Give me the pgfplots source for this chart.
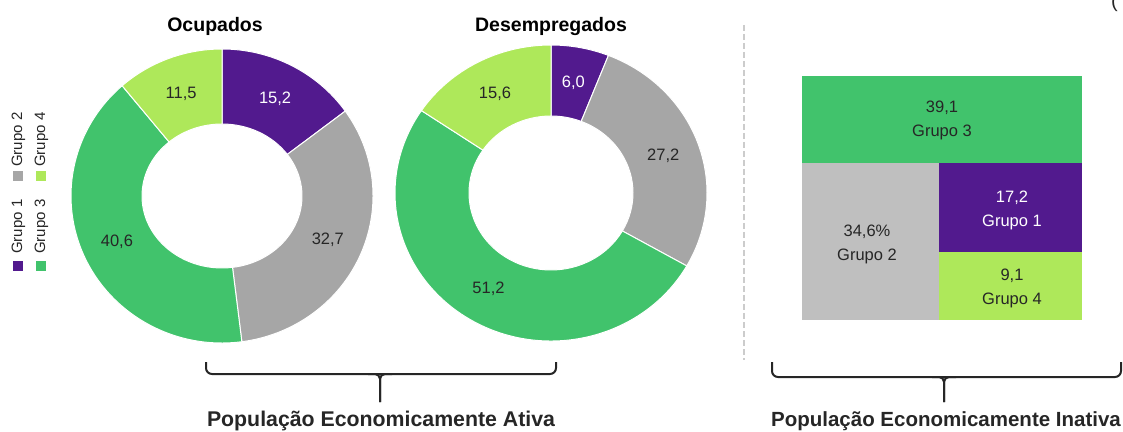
\documentclass[border=0pt]{standalone}
\usepackage{fontspec}
\setmainfont{Liberation Sans}
\usepackage{pgfplots}
\pgfplotsset{compat=1.18}

\definecolor{g1}{HTML}{521A8E}
\definecolor{g2}{HTML}{A6A6A6}
\definecolor{g2tm}{HTML}{BFBFBF}
\definecolor{g3}{HTML}{41C36C}
\definecolor{g4}{HTML}{AEE85A}
\definecolor{txt}{HTML}{262626}

\newcommand\donutfont{\fontsize{16.5}{19}\selectfont}
\newcommand\tmfont{\fontsize{16.5}{24}\selectfont}
\newcommand\titfont{\fontsize{19.5}{22}\selectfont\bfseries}
\newcommand\legfont{\fontsize{15}{16}\selectfont}

% donut: #1 cx, #2 cy, #3/#4 outer radii, #5/#6 inner radii, #7 value/label/colour/textcolour
\newcommand\donut[7]{%
  \gdef\cum{0}%
  \foreach \v/\lab/\c/\tc in {#7} {%
    \pgfmathsetmacro\aa{90-3.6*\cum}%
    \pgfmathsetmacro\ab{90-3.6*(\cum+\v)}%
    \pgfmathsetmacro\am{(\aa+\ab)/2}%
    \pgfmathsetmacro\ox{#1+#3*cos(\aa)}%
    \pgfmathsetmacro\oy{#2+#4*sin(\aa)}%
    \pgfmathsetmacro\ix{#1+#5*cos(\ab)}%
    \pgfmathsetmacro\iy{#2+#6*sin(\ab)}%
    \pgfmathsetmacro\lx{#1+(#3+#5)/2*cos(\am)}%
    \pgfmathsetmacro\ly{#2+(#4+#6)/2*sin(\am)}%
    \edef\tmp{%
      \noexpand\fill[\c, draw=white, line width=1pt] (axis cs:\ox,\oy)
        arc[start angle=\aa, end angle=\ab, x radius=#3pt, y radius=#4pt]
        -- (axis cs:\ix,\iy)
        arc[start angle=\ab, end angle=\aa, x radius=#5pt, y radius=#6pt] -- cycle;
      \noexpand\node[text=\tc, font=\noexpand\donutfont] at (axis cs:\lx,\ly) {\lab};}%
    \tmp
    \pgfmathsetmacro\newcum{\cum+\v}\global\let\cum\newcum
  }%
}

\begin{document}
\begin{tikzpicture}
\begin{axis}[
    hide axis,
    x=1pt, y=1pt,
    xmin=0, xmax=1123, ymin=0, ymax=431,
    clip=false,
]
\coordinate (BL) at (axis cs:0,0);
\coordinate (TR) at (axis cs:1123,431);

% donuts
\donut{222}{235}{151}{147}{80}{72}{15.2/{15,2}/g1/white, 32.7/{32,7}/g2/txt, 40.6/{40,6}/g3/txt, 11.5/{11,5}/g4/txt}
\donut{551}{238}{156}{148}{82}{77}{6.0/{6,0}/g1/white, 27.2/{27,2}/g2/txt, 51.2/{51,2}/g3/txt, 15.6/{15,6}/g4/txt}

\node[font=\titfont, text=black] at (axis cs:215,405) {Ocupados};
\node[font=\titfont, text=black] at (axis cs:551,404) {Desempregados};

% legend (rotated)
\fill[g1] (axis cs:13,160) rectangle (axis cs:23,170);
\fill[g2] (axis cs:13,250) rectangle (axis cs:23,260);
\fill[g3] (axis cs:36,160) rectangle (axis cs:46,170);
\fill[g4] (axis cs:36,250) rectangle (axis cs:46,260);
\node[rotate=90, anchor=west, font=\legfont, text=txt, inner sep=0pt] at (axis cs:18.5,177) {Grupo 1};
\node[rotate=90, anchor=west, font=\legfont, text=txt, inner sep=0pt] at (axis cs:18.5,264) {Grupo 2};
\node[rotate=90, anchor=west, font=\legfont, text=txt, inner sep=0pt] at (axis cs:41.5,177) {Grupo 3};
\node[rotate=90, anchor=west, font=\legfont, text=txt, inner sep=0pt] at (axis cs:41.5,264) {Grupo 4};

% separator
\draw[black!20, line width=1.5pt, dash pattern=on 6pt off 3pt] (axis cs:744,406) -- (axis cs:744,71);

% treemap
\addplot[fill=g3, draw=none] coordinates {(802,355) (1082,355) (1082,268) (802,268)} -- cycle;
\addplot[fill=g2tm, draw=none] coordinates {(802,268) (939,268) (939,111) (802,111)} -- cycle;
\addplot[fill=g1, draw=none] coordinates {(939,268) (1082,268) (1082,179) (939,179)} -- cycle;
\addplot[fill=g4, draw=none] coordinates {(939,179) (1082,179) (1082,111) (939,111)} -- cycle;
\node[align=center, font=\tmfont, text=txt] at (axis cs:942,311) {39,1\\Grupo 3};
\node[align=center, font=\tmfont, text=txt] at (axis cs:867,187) {34,6\%\\Grupo 2};
\node[align=center, font=\tmfont, text=white] at (axis cs:1012,221) {17,2\\Grupo 1};
\node[align=center, font=\tmfont, text=txt] at (axis cs:1012,143) {9,1\\Grupo 4};

% braces
\draw[txt, line width=2pt, rounded corners=6pt] (axis cs:206,69) -- (axis cs:206,57) -- (axis cs:556,57) -- (axis cs:556,69);
\draw[txt, line width=2pt, rounded corners=5pt] (axis cs:368,57) -| (axis cs:380,29);
\draw[txt, line width=2pt, rounded corners=5pt] (axis cs:392,57) -| (axis cs:380,29);
\draw[txt, line width=2pt, rounded corners=6pt] (axis cs:772,69) -- (axis cs:772,54) -- (axis cs:1121,54) -- (axis cs:1121,69);
\draw[txt, line width=2pt, rounded corners=5pt] (axis cs:932,54) -| (axis cs:944,29);
\draw[txt, line width=2pt, rounded corners=5pt] (axis cs:956,54) -| (axis cs:944,29);

\node[font=\fontsize{21.3}{24}\selectfont\bfseries, text=txt] at (axis cs:381,10) {População Economicamente Ativa};
\node[font=\fontsize{20.5}{24}\selectfont\bfseries, text=txt] at (axis cs:946,10) {População Economicamente Inativa};

\node[anchor=base west, inner sep=0pt, font=\fontsize{20}{24}\selectfont, text=txt] at (axis cs:1111,423) {(};
\end{axis}
\pgfresetboundingbox
\useasboundingbox (BL) rectangle (TR);
\end{tikzpicture}
\end{document}
